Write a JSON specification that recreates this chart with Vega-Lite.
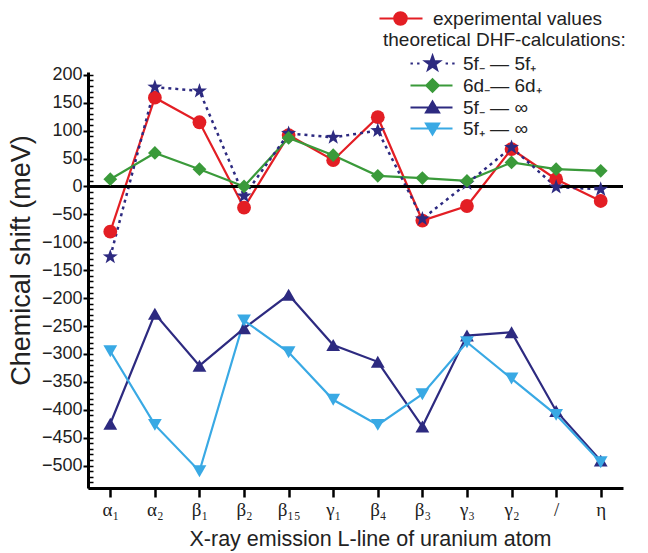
{
  "$schema": "https://vega.github.io/schema/vega-lite/v6.json",
  "width": 535,
  "height": 416,
  "autosize": {"type": "none"},
  "padding": {"left": 88, "top": 72, "right": 25, "bottom": 65},
  "config": {"view": {"stroke": null}, "font": "Liberation Sans"},
  "data": {"values": [
    {"x": "α₁", "s": "experimental values", "v": -81},
    {"x": "α₂", "s": "experimental values", "v": 159},
    {"x": "β₁", "s": "experimental values", "v": 115},
    {"x": "β₂", "s": "experimental values", "v": -38},
    {"x": "β₁₅", "s": "experimental values", "v": 92},
    {"x": "γ₁", "s": "experimental values", "v": 47},
    {"x": "β₄", "s": "experimental values", "v": 124},
    {"x": "β₃", "s": "experimental values", "v": -61},
    {"x": "γ₃", "s": "experimental values", "v": -35},
    {"x": "γ₂", "s": "experimental values", "v": 67},
    {"x": "/", "s": "experimental values", "v": 13},
    {"x": "η", "s": "experimental values", "v": -26},
    {"x": "α₁", "s": "5f₋ — 5f₊", "v": -126},
    {"x": "α₂", "s": "5f₋ — 5f₊", "v": 178},
    {"x": "β₁", "s": "5f₋ — 5f₊", "v": 171},
    {"x": "β₂", "s": "5f₋ — 5f₊", "v": -17},
    {"x": "β₁₅", "s": "5f₋ — 5f₊", "v": 95},
    {"x": "γ₁", "s": "5f₋ — 5f₊", "v": 88},
    {"x": "β₄", "s": "5f₋ — 5f₊", "v": 100},
    {"x": "β₃", "s": "5f₋ — 5f₊", "v": -58},
    {"x": "γ₃", "s": "5f₋ — 5f₊", "v": 5},
    {"x": "γ₂", "s": "5f₋ — 5f₊", "v": 70},
    {"x": "/", "s": "5f₋ — 5f₊", "v": -1},
    {"x": "η", "s": "5f₋ — 5f₊", "v": -5},
    {"x": "α₁", "s": "6d₋— 6d₊", "v": 13},
    {"x": "α₂", "s": "6d₋— 6d₊", "v": 60},
    {"x": "β₁", "s": "6d₋— 6d₊", "v": 31},
    {"x": "β₂", "s": "6d₋— 6d₊", "v": 0},
    {"x": "β₁₅", "s": "6d₋— 6d₊", "v": 87},
    {"x": "γ₁", "s": "6d₋— 6d₊", "v": 56},
    {"x": "β₄", "s": "6d₋— 6d₊", "v": 19},
    {"x": "β₃", "s": "6d₋— 6d₊", "v": 15},
    {"x": "γ₃", "s": "6d₋— 6d₊", "v": 10},
    {"x": "γ₂", "s": "6d₋— 6d₊", "v": 43},
    {"x": "/", "s": "6d₋— 6d₊", "v": 31},
    {"x": "η", "s": "6d₋— 6d₊", "v": 28},
    {"x": "α₁", "s": "5f₋ — ∞", "v": -425},
    {"x": "α₂", "s": "5f₋ — ∞", "v": -228},
    {"x": "β₁", "s": "5f₋ — ∞", "v": -321},
    {"x": "β₂", "s": "5f₋ — ∞", "v": -254},
    {"x": "β₁₅", "s": "5f₋ — ∞", "v": -194},
    {"x": "γ₁", "s": "5f₋ — ∞", "v": -284},
    {"x": "β₄", "s": "5f₋ — ∞", "v": -314},
    {"x": "β₃", "s": "5f₋ — ∞", "v": -430},
    {"x": "γ₃", "s": "5f₋ — ∞", "v": -267},
    {"x": "γ₂", "s": "5f₋ — ∞", "v": -261},
    {"x": "/", "s": "5f₋ — ∞", "v": -402},
    {"x": "η", "s": "5f₋ — ∞", "v": -491},
    {"x": "α₁", "s": "5f₊ — ∞", "v": -295},
    {"x": "α₂", "s": "5f₊ — ∞", "v": -427},
    {"x": "β₁", "s": "5f₊ — ∞", "v": -510},
    {"x": "β₂", "s": "5f₊ — ∞", "v": -240},
    {"x": "β₁₅", "s": "5f₊ — ∞", "v": -297},
    {"x": "γ₁", "s": "5f₊ — ∞", "v": -382},
    {"x": "β₄", "s": "5f₊ — ∞", "v": -427},
    {"x": "β₃", "s": "5f₊ — ∞", "v": -372},
    {"x": "γ₃", "s": "5f₊ — ∞", "v": -279},
    {"x": "γ₂", "s": "5f₊ — ∞", "v": -344},
    {"x": "/", "s": "5f₊ — ∞", "v": -409},
    {"x": "η", "s": "5f₊ — ∞", "v": -494}
  ]},
  "layer": [
    {
      "transform": [{"filter": "datum.s !== '5f₋ — 5f₊'"}],
      "mark": {"type": "line", "strokeWidth": 2.2},
      "encoding": {
        "x": {"field": "x", "type": "nominal", "sort": ["α₁", "α₂", "β₁", "β₂", "β₁₅", "γ₁", "β₄", "β₃", "γ₃", "γ₂", "/", "η"],
          "scale": {"type": "point", "padding": 0.5},
          "axis": {"title": "X-ray emission L-line of uranium atom", "labelAngle": 0, "labelFont": "Liberation Serif", "labelFontSize": 19, "labelColor": "#222", "labelPadding": 3, "tickSize": 9, "tickWidth": 2.5, "tickColor": "black", "domainColor": "black", "domainWidth": 3, "grid": false, "titleFont": "Liberation Sans", "titleFontSize": 21.5, "titleFontWeight": "normal", "titleColor": "#222", "titleX": 282, "titleY": 40, "titleBaseline": "top"}},
        "y": {"field": "v", "type": "quantitative",
          "scale": {"domain": [-540, 205], "nice": false, "zero": false},
          "axis": {"title": "Chemical shift (meV)", "orient": "left", "values": [-500, -450, -400, -350, -300, -250, -200, -150, -100, -50, 0, 50, 100, 150, 200], "tickSize": 5, "tickWidth": 2, "tickColor": "black", "domainColor": "black", "domainWidth": 3, "labelFont": "Liberation Sans", "labelFontSize": 18, "labelColor": "#222", "labelPadding": 1, "grid": false, "titleFont": "Liberation Sans", "titleFontSize": 27, "titleFontWeight": "normal", "titleColor": "#222", "titleX": -53, "titleY": 188}},
        "color": {"field": "s", "type": "nominal",
          "scale": {"domain": ["experimental values", "theoretical DHF-calculations:", "5f₋ — 5f₊", "6d₋— 6d₊", "5f₋ — ∞", "5f₊ — ∞"], "range": ["#e31e24", "#ffffff", "#2d2a80", "#3a9a3a", "#2d2a80", "#39a9e4"]},
          "legend": {"orient": "none", "legendX": 289, "legendY": -63, "title": null, "padding": 0, "labelFont": "Liberation Sans", "labelFontSize": 19, "labelColor": "#222", "labelLimit": 400, "symbolSize": 144, "symbolStrokeWidth": 2, "labelOffset": 37, "rowPadding": 1,
            "encode": {
              "symbols": {"update": {
                "shape": {"signal": "datum.index === 0 ? 'M-1.17,0H6M1.28,0A1.05,1.05,0,1,1,3.38,0A1.05,1.05,0,1,1,1.28,0Z' : datum.index === 1 ? 'M0,0' : datum.index === 2 ? 'M4,0H4.4M5.1,0H5.5M9.85,0H10.25M10.95,0H11.35M7.67,-1.3L7.976,-0.421L8.906,-0.402L8.165,0.161L8.434,1.052L7.67,0.52L6.906,1.052L7.175,0.161L6.434,-0.402L7.364,-0.421Z' : datum.index === 3 ? 'M4,0H11M7.67,-1.05L8.72,0L7.67,1.05L6.62,0Z' : datum.index === 4 ? 'M4,0H11M7.67,-1.0L8.77,0.85L6.57,0.85Z' : 'M4,0H11M7.67,1.0L8.77,-0.85L6.57,-0.85Z'"},
                "size": {"value": 144},
                "fill": {"scale": "color", "field": "value"},
                "stroke": {"scale": "color", "field": "value"},
                "strokeWidth": {"value": 2},
                "opacity": {"value": 1}
              }},
              "labels": {"update": {"dx": {"signal": "datum.index === 0 ? 0 : datum.index === 1 ? -50 : 30"}}}
            }}}
      }
    },
    {
      "transform": [{"filter": "datum.s === '5f₋ — 5f₊'"}],
      "mark": {"type": "line", "strokeWidth": 2.5, "strokeDash": [3, 4], "color": "#2d2a80"},
      "encoding": {
        "x": {"field": "x", "type": "nominal", "sort": ["α₁", "α₂", "β₁", "β₂", "β₁₅", "γ₁", "β₄", "β₃", "γ₃", "γ₂", "/", "η"]},
        "y": {"field": "v", "type": "quantitative", "axis": null}
      }
    },
    {
      "data": {"values": [{}]},
      "mark": {"type": "rule", "color": "black", "strokeWidth": 3},
      "encoding": {
        "y": {"datum": 0, "type": "quantitative",
          "axis": {"orient": "left", "title": null, "labels": false, "domain": false, "grid": false, "tickSize": -5, "tickWidth": 1.5, "tickColor": "black",
            "values": [-540, -530, -520, -510, -500, -490, -480, -470, -460, -450, -440, -430, -420, -410, -400, -390, -380, -370, -360, -350, -340, -330, -320, -310, -300, -290, -280, -270, -260, -250, -240, -230, -220, -210, -200, -190, -180, -170, -160, -150, -140, -130, -120, -110, -100, -90, -80, -70, -60, -50, -40, -30, -20, -10, 0, 10, 20, 30, 40, 50, 60, 70, 80, 90, 100, 110, 120, 130, 140, 150, 160, 170, 180, 190, 200]}}
      }
    },
    {
      "transform": [{"filter": "datum.s === 'experimental values'"}],
      "mark": {"type": "point", "filled": true, "opacity": 1, "size": 190, "shape": "circle", "color": "#e31e24"},
      "encoding": {
        "x": {"field": "x", "type": "nominal", "sort": ["α₁", "α₂", "β₁", "β₂", "β₁₅", "γ₁", "β₄", "β₃", "γ₃", "γ₂", "/", "η"]},
        "y": {"field": "v", "type": "quantitative", "axis": null}
      }
    },
    {
      "transform": [{"filter": "datum.s === '5f₋ — 5f₊'"}],
      "mark": {"type": "point", "filled": true, "opacity": 1, "size": 190, "shape": "M0,-1.15L0.27,-0.372L1.094,-0.355L0.437,0.142L0.676,0.93L0,0.46L-0.676,0.93L-0.437,0.142L-1.094,-0.355L-0.27,-0.372Z", "color": "#2d2a80"},
      "encoding": {
        "x": {"field": "x", "type": "nominal", "sort": ["α₁", "α₂", "β₁", "β₂", "β₁₅", "γ₁", "β₄", "β₃", "γ₃", "γ₂", "/", "η"]},
        "y": {"field": "v", "type": "quantitative", "axis": null}
      }
    },
    {
      "transform": [{"filter": "datum.s === '6d₋— 6d₊'"}],
      "mark": {"type": "point", "filled": true, "opacity": 1, "size": 190, "shape": "diamond", "color": "#3a9a3a"},
      "encoding": {
        "x": {"field": "x", "type": "nominal", "sort": ["α₁", "α₂", "β₁", "β₂", "β₁₅", "γ₁", "β₄", "β₃", "γ₃", "γ₂", "/", "η"]},
        "y": {"field": "v", "type": "quantitative", "axis": null}
      }
    },
    {
      "transform": [{"filter": "datum.s === '5f₋ — ∞'"}],
      "mark": {"type": "point", "filled": true, "opacity": 1, "size": 190, "shape": "triangle-up", "color": "#2d2a80"},
      "encoding": {
        "x": {"field": "x", "type": "nominal", "sort": ["α₁", "α₂", "β₁", "β₂", "β₁₅", "γ₁", "β₄", "β₃", "γ₃", "γ₂", "/", "η"]},
        "y": {"field": "v", "type": "quantitative", "axis": null}
      }
    },
    {
      "transform": [{"filter": "datum.s === '5f₊ — ∞'"}],
      "mark": {"type": "point", "filled": true, "opacity": 1, "size": 190, "shape": "triangle-down", "color": "#39a9e4"},
      "encoding": {
        "x": {"field": "x", "type": "nominal", "sort": ["α₁", "α₂", "β₁", "β₂", "β₁₅", "γ₁", "β₄", "β₃", "γ₃", "γ₂", "/", "η"]},
        "y": {"field": "v", "type": "quantitative", "axis": null}
      }
    }
  ],
  "resolve": {"axis": {"y": "independent"}}
}
